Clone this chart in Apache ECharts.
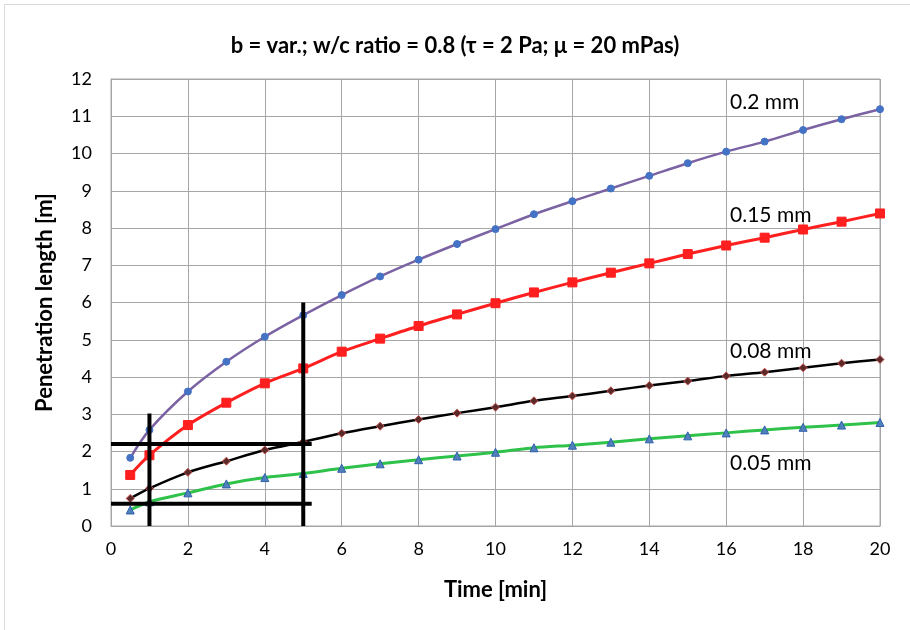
<!DOCTYPE html>
<html>
<head>
<meta charset="utf-8">
<script src="https://cdn.jsdelivr.net/npm/echarts@6/dist/echarts.min.js"></script>
<style>html,body{margin:0;padding:0;background:#fff}#c{width:910px;height:630px}</style>
</head>
<body>
<div id="c"></div>
<script>
const times = [0.5,1,2,3,4,5,6,7,8,9,10,11,12,13,14,15,16,17,18,19,20];
const s02  = [1.83,2.58,3.61,4.41,5.08,5.66,6.20,6.70,7.15,7.57,7.97,8.37,8.72,9.06,9.40,9.74,10.05,10.32,10.63,10.92,11.19];
const s015 = [1.37,1.90,2.71,3.31,3.83,4.23,4.68,5.03,5.37,5.68,5.98,6.27,6.54,6.80,7.05,7.30,7.53,7.74,7.96,8.17,8.39];
const s008 = [0.74,1.01,1.44,1.74,2.04,2.26,2.49,2.68,2.86,3.03,3.19,3.36,3.49,3.63,3.77,3.89,4.03,4.13,4.25,4.37,4.47];
const s005 = [0.43,0.65,0.89,1.13,1.30,1.41,1.55,1.67,1.78,1.88,1.98,2.10,2.17,2.25,2.34,2.42,2.50,2.58,2.65,2.71,2.78];
const seriesNames = ['0.2 mm','0.15 mm','0.08 mm','0.05 mm'];
const labelPos = [[16.1,11.38],[16.1,8.35],[16.1,4.70],[16.1,1.69]];
const refH1 = [[0,2.2],[5.22,2.2]];
const refH2 = [[0,0.6],[5.22,0.6]];
const refV1 = [[1,0],[1,3.02]];
const refV2 = [[5,0],[5,6.0]];
const xTicks = [0,2,4,6,8,10,12,14,16,18,20];
const yTicks = [0,1,2,3,4,5,6,7,8,9,10,11,12];

const zip = (xs, ys) => xs.map((x,i)=>[x,ys[i]]);
const F = 'Lato, "Open Sans", sans-serif';

const chart = echarts.init(document.getElementById('c'), null, {renderer:'canvas'});
function lineSeries(data, color, width, symbol, size, mColor, mBorder) {
  return {
    type:'line', data:data, smooth:0.3, symbol:symbol, symbolSize:size,
    lineStyle:{color:color, width:width},
    itemStyle:{color:mColor, borderColor:mBorder, borderWidth:1},
    z:3, animation:false
  };
}
function refLine(data){
  return {type:'line', data:data, symbol:'none', lineStyle:{color:'#000', width:4}, z:4, animation:false};
}
chart.setOption({
  backgroundColor:'#fff',
  animation:false,
  title:{text:'b = var.; w/c ratio = 0.8 (\u03c4 = 2 Pa; \u03bc = 20 mPas)', left:'center', top:30,
    textStyle:{fontFamily:F, fontSize:22, fontWeight:'bold', color:'#000'}},
  grid:{left:111, right:30, top:79, bottom:104, show:true, borderColor:'#a6a6a6', borderWidth:1},
  xAxis:{type:'value', min:0, max:20, interval:2,
    name:'Time [min]', nameLocation:'middle', nameGap:53,
    nameTextStyle:{fontFamily:F, fontSize:22, fontWeight:'bold', color:'#000'},
    axisLine:{show:true, lineStyle:{color:'#a6a6a6'}}, axisTick:{show:false},
    axisLabel:{fontFamily:F, fontSize:18, color:'#000', margin:14, formatter:v=>xTicks.includes(v)?String(v):''},
    splitLine:{show:true, lineStyle:{color:'#a6a6a6', width:1}}},
  yAxis:{type:'value', min:0, max:12, interval:1,
    name:'Penetration length [m]', nameLocation:'middle', nameGap:55,
    nameTextStyle:{fontFamily:F, fontSize:22, fontWeight:'bold', color:'#000'},
    axisLine:{show:true, lineStyle:{color:'#a6a6a6'}}, axisTick:{show:false},
    axisLabel:{fontFamily:F, fontSize:18, color:'#000', margin:19, formatter:v=>yTicks.includes(v)?String(v):''},
    splitLine:{show:true, lineStyle:{color:'#a6a6a6', width:1}}},
  series:[
    lineSeries(zip(times,s02), '#7b62a3', 2.5, 'circle', 7, '#4472c4', '#4472c4'),
    lineSeries(zip(times,s015), '#ff1f1f', 3, 'rect', 9, '#ff1f1f', '#ff1f1f'),
    lineSeries(zip(times,s008), '#000000', 2.5, 'diamond', 8, '#5a2a2a', '#c0504d'),
    lineSeries(zip(times,s005), '#2ec24a', 3, 'triangle', 8, '#4f81bd', '#2f5fa8'),
    refLine(refH1), refLine(refH2), refLine(refV1), refLine(refV2)
  ]
});
const texts = labelPos.map((p,i)=>{
  const px = chart.convertToPixel({gridIndex:0}, p);
  return {type:'text', x:px[0], y:px[1], z:10, silent:true,
    style:{text:seriesNames[i], fill:'#000', font:'21px ' + F, textAlign:'left', textVerticalAlign:'middle'}};
});
texts.push({type:'polyline', shape:{points:[[4.5,630],[4.5,4.5],[910,4.5]]}, style:{stroke:'#d9d9d9', fill:null, lineWidth:1}, silent:true});
chart.setOption({graphic:texts});
</script>
</body>
</html>
